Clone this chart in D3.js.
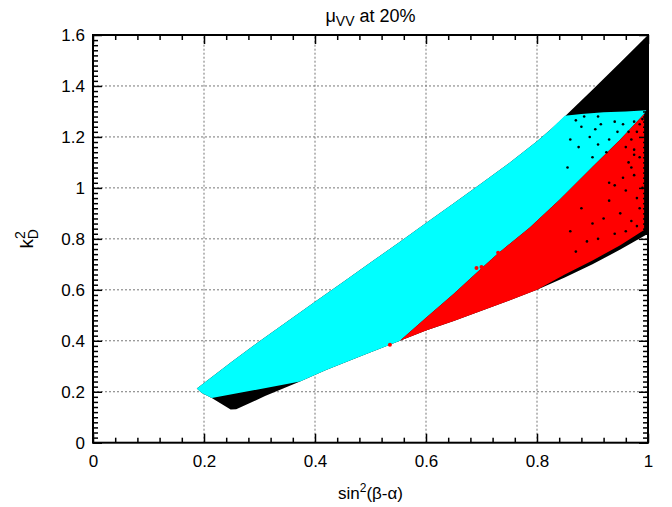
<!DOCTYPE html>
<html><head><meta charset="utf-8">
<script src="https://cdn.jsdelivr.net/npm/d3@7"></script>
<style>body{margin:0;background:#fff;} text{font-family:"Liberation Sans",Arial,sans-serif;}</style>
</head><body><svg id="c" width="672" height="507"></svg>
<script>
// ---- data ----
const xTicks = [0, 0.2, 0.4, 0.6, 0.8, 1];
const xTickLabels = ["0", "0.2", "0.4", "0.6", "0.8", "1"];
const yTicks = [0, 0.2, 0.4, 0.6, 0.8, 1, 1.2, 1.4, 1.6];
const yTickLabels = ["0", "0.2", "0.4", "0.6", "0.8", "1", "1.2", "1.4", "1.6"];

// outer envelope of all scan points (black), upper edge left->right
const envelopeUpper = [[0.187,0.213],[0.2,0.234],[0.25,0.318],[0.3,0.398],[0.35,0.476],[0.4,0.553],[0.45,0.63],[0.5,0.707],[0.55,0.784],[0.6,0.862],[0.65,0.94],[0.7,1.018],[0.75,1.098],[0.8,1.183],[0.825,1.23],[0.85,1.28],[0.9,1.385],[0.95,1.492],[1.0,1.6]];
// lower edge right->left
const envelopeLower = [[1.0,0.82],[0.95,0.758],[0.9,0.70],[0.85,0.648],[0.8,0.60],[0.75,0.558],[0.7,0.518],[0.65,0.478],[0.6,0.44],[0.553,0.40],[0.535,0.384],[0.481,0.338],[0.42,0.285],[0.373,0.24],[0.31,0.183],[0.258,0.131],[0.248,0.13],[0.214,0.175],[0.196,0.195]];
// cyan region
const cyanTop = [[0.85,1.283],[0.88,1.29],[0.92,1.297],[0.96,1.30],[0.997,1.305]];
const cyanLower = [[0.553,0.40],[0.535,0.384],[0.481,0.338],[0.42,0.285],[0.373,0.24],[0.214,0.175],[0.196,0.195]];
// red region
const redUpper = [[0.553,0.40],[0.6,0.49],[0.65,0.585],[0.7,0.685],[0.727,0.738],[0.787,0.845],[0.841,0.954],[0.901,1.085],[0.95,1.19],[0.993,1.29]];
const redLower = [[0.993,0.835],[0.95,0.775],[0.9,0.715],[0.85,0.66],[0.8,0.60],[0.75,0.558],[0.7,0.518],[0.65,0.478],[0.6,0.44],[0.553,0.40]];
// isolated points
const blackSpecks = [[0.91,1.28],[0.915,1.25],[0.94,1.26],[0.905,1.23],[0.88,1.24],[0.86,1.19],[0.895,1.20],[0.875,1.16],[0.91,1.17],[0.925,1.14],[0.90,1.12],[0.945,1.22],[0.93,1.19],[0.885,1.28],[0.87,1.265],[0.855,1.08],[0.955,1.25],[0.965,1.22],[0.97,1.19],[0.96,1.16],[0.975,1.15],[0.98,1.22],[0.975,1.26],[0.985,1.25],[0.99,1.27],
  [0.965,1.10],[0.97,1.08],[0.975,1.05],[0.93,1.02],[0.94,1.01],[0.955,1.04],[0.96,0.99],[0.98,0.96],[0.985,0.92],[0.88,0.92],[0.93,0.95],[0.985,1.12],[0.975,1.13],[0.99,1.0],[0.95,0.90],[0.92,0.88],[0.97,0.87],[0.89,0.79],[0.91,0.80],[0.94,0.82],[0.96,0.83],[0.98,0.85],[0.87,0.75],[0.86,0.83],[0.9,0.86]];
const redSpecks = [[0.535,0.384],[0.691,0.686],[0.70,0.69],[0.73,0.745]];

// ---- drawing ----
const svg = d3.select("#c");
const L = 93, R = 648, T = 35, B = 442.7;
const x = d3.scaleLinear().domain([0,1]).range([L,R]);
const y = d3.scaleLinear().domain([0,1.6]).range([B,T]);
const line = d3.line().x(d=>x(d[0])).y(d=>y(d[1]));

// grid
const g = svg.append("g");
g.selectAll(".gx").data(xTicks.slice(1,-1)).join("line")
  .attr("x1",d=>x(d)).attr("x2",d=>x(d)).attr("y1",B).attr("y2",T)
  .attr("stroke","#777").attr("stroke-dasharray","2,2");
g.selectAll(".gy").data(yTicks.slice(1,-1)).join("line")
  .attr("y1",d=>y(d)).attr("y2",d=>y(d)).attr("x1",L).attr("x2",R)
  .attr("stroke","#777").attr("stroke-dasharray","2,2");

// regions
svg.append("clipPath").attr("id","pc").append("rect").attr("x",L).attr("y",T).attr("width",R-L).attr("height",B-T);
const pg = svg.append("g").attr("clip-path","url(#pc)");
pg.append("path").attr("d", line(envelopeUpper.concat(envelopeLower)) + "Z").attr("fill","#000");
const cyanPoly = envelopeUpper.filter(p=>p[0]<0.85).concat(cyanTop, redUpper.slice().reverse(), cyanLower.slice(1));
pg.append("path").attr("d", line(cyanPoly) + "Z").attr("fill","#00FFFF");
pg.append("path").attr("d", line(redUpper.concat(redLower)) + "Z").attr("fill","#FF0000");
pg.selectAll(".bs").data(blackSpecks).join("circle").attr("cx",d=>x(d[0])).attr("cy",d=>y(d[1])).attr("r",1.3).attr("fill","#000");
pg.selectAll(".rs").data(redSpecks).join("circle").attr("cx",d=>x(d[0])).attr("cy",d=>y(d[1])).attr("r",2).attr("fill","#FF0000");

// axes
const fmtX = d => xTickLabels[xTicks.indexOf(d)];
const fmtY = d => yTickLabels[yTicks.indexOf(d)];
const xMinor = d3.range(0, 1.0001, 0.04).filter(v => Math.abs(v/0.2 - Math.round(v/0.2)) > 1e-6);
const yMinor = d3.range(0, 1.6001, 0.02).filter(v => Math.abs(v/0.2 - Math.round(v/0.2)) > 1e-6);

function ax(gen, tr, vals, size, fmt, pad) {
  const a = svg.append("g").attr("transform", tr)
    .call(gen.tickValues(vals).tickSize(-size).tickPadding(pad).tickFormat(fmt || (()=>"")));
  a.select(".domain").remove();
  a.selectAll("line").attr("stroke","#000").attr("stroke-width",1.5);
  a.selectAll("text").attr("font-size",17).attr("fill","#000").style("font-family","'Liberation Sans',Arial,sans-serif");
  return a;
}
ax(d3.axisBottom(x), `translate(0,${B})`, xTicks, 9, fmtX, 12);
ax(d3.axisBottom(x), `translate(0,${B})`, xMinor, 5, null, 0);
ax(d3.axisTop(x), `translate(0,${T})`, xTicks, 9, null, 0);
ax(d3.axisTop(x), `translate(0,${T})`, xMinor, 5, null, 0);
ax(d3.axisLeft(y), `translate(${L},0)`, yTicks, 9, fmtY, 8);
ax(d3.axisLeft(y), `translate(${L},0)`, yMinor, 5, null, 0);
ax(d3.axisRight(y), `translate(${R},0)`, yTicks, 9, null, 0);
ax(d3.axisRight(y), `translate(${R},0)`, yMinor, 5, null, 0);

// frame
svg.append("rect").attr("x",L).attr("y",T).attr("width",R-L).attr("height",B-T)
  .attr("fill","none").attr("stroke","#000").attr("stroke-width",2);

// title
const t = svg.append("text").attr("x",(L+R)/2).attr("y",22).attr("text-anchor","middle").attr("font-size",18);
t.append("tspan").text("μ");
t.append("tspan").attr("font-size",14).attr("dy",4).text("VV");
t.append("tspan").attr("dy",-4).text(" at 20%");

// x label
const xl = svg.append("text").attr("x",(L+R)/2).attr("y",499).attr("text-anchor","middle").attr("font-size",17);
xl.append("tspan").text("sin");
xl.append("tspan").attr("font-size",12).attr("dy",-7).text("2");
xl.append("tspan").attr("dy",7).text("(β-α)");

// y label
const yl = svg.append("text").attr("transform",`translate(33,${(T+B)/2}) rotate(-90)`).attr("text-anchor","middle").attr("font-size",19);
yl.append("tspan").text("k");
yl.append("tspan").attr("font-size",14).attr("dy",-8).text("2");
yl.append("tspan").attr("font-size",14).attr("dx",-8).attr("dy",13).text("D");
</script></body></html>
